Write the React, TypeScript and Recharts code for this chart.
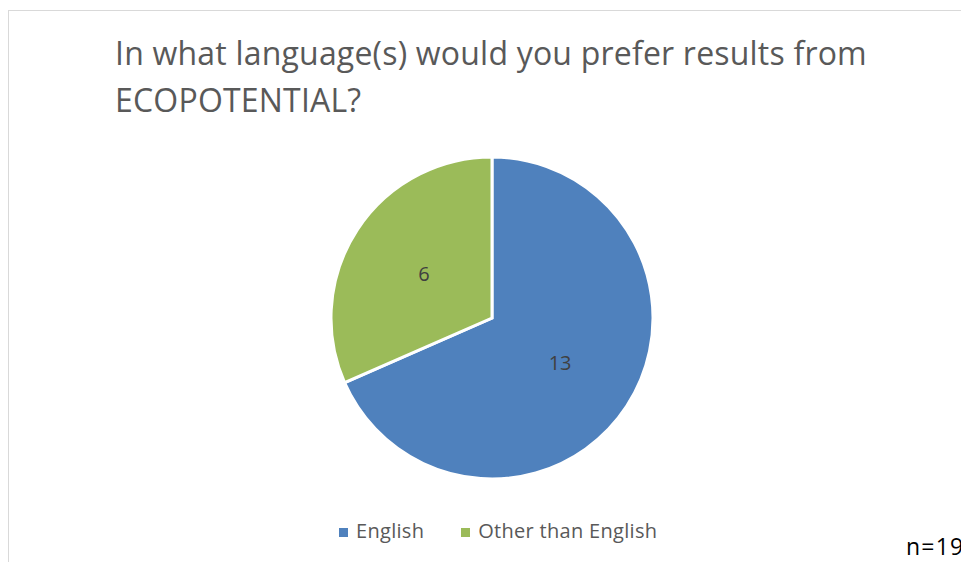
import { PieChart, Pie, Cell, Legend } from "recharts";

const categories = ["English", "Other than English"];
const counts = [13, 6];
const COLORS = ["#4F81BD", "#9BBB59"];

const TITLE_1 = "In what language(s) would you prefer results from";
const TITLE_2 = "ECOPOTENTIAL?";
const NOTE = "n=19";

const data = categories.map((name, i) => ({ name, value: counts[i] }));

const RADIAN = Math.PI / 180;

function renderLabel(props: any) {
  const { cx, cy, midAngle, outerRadius, value } = props;
  const r = outerRadius * 0.505;
  const x = cx + r * Math.cos(-midAngle * RADIAN);
  const y = cy + r * Math.sin(-midAngle * RADIAN);
  return (
    <text
      x={x}
      y={y}
      fill="#404040"
      fontSize={20}
      fontFamily="Open Sans"
      textAnchor="middle"
      dominantBaseline="central"
    >
      {value}
    </text>
  );
}

function renderLegend() {
  return (
    <div
      style={{
        display: "flex",
        justifyContent: "flex-start",
        gap: 37,
        fontFamily: "Open Sans",
        fontSize: 20,
        letterSpacing: 0.3,
        color: "#595959",
        paddingLeft: 339,
      }}
    >
      {data.map((d, i) => (
        <div key={d.name} style={{ display: "flex", alignItems: "center" }}>
          <span
            style={{
              width: 9,
              height: 9,
              background: COLORS[i],
              display: "inline-block",
              marginRight: 8,
              marginTop: 3,
            }}
          />
          {d.name}
        </div>
      ))}
    </div>
  );
}

export default function App() {
  return (
    <div
      style={{
        position: "absolute",
        left: 0,
        top: 0,
        width: 961,
        height: 562,
        overflow: "hidden",
        background: "#fff",
      }}
    >
      <div
        style={{
          position: "absolute",
          left: 8,
          top: 10,
          width: 1000,
          height: 600,
          border: "1px solid #d9d9d9",
        }}
      />
      <div
        style={{
          position: "absolute",
          left: 115,
          top: 29,
          fontFamily: "Open Sans",
          fontSize: 32,
          letterSpacing: 0.2,
          lineHeight: "47px",
          color: "#595959",
          whiteSpace: "nowrap",
        }}
      >
        {TITLE_1}
        <br />
        {TITLE_2}
      </div>
      <div style={{ position: "absolute", left: 0, top: 0 }}>
        <PieChart
          width={961}
          height={562}
          margin={{ top: 0, right: 0, bottom: 0, left: 0 }}
        >
          <Pie
            data={data}
            dataKey="value"
            nameKey="name"
            cx={492}
            cy={318}
            outerRadius={161}
            startAngle={90}
            endAngle={-270}
            stroke="#fff"
            strokeWidth={3}
            label={renderLabel}
            labelLine={false}
            isAnimationActive={false}
          >
            {data.map((d, i) => (
              <Cell key={d.name} fill={COLORS[i]} />
            ))}
          </Pie>
          <Legend
            content={renderLegend}
            wrapperStyle={{ position: "absolute", left: 0, width: 961, top: 517 }}
          />
        </PieChart>
      </div>
      <div
        style={{
          position: "absolute",
          left: 906,
          top: 530,
          fontFamily: "Open Sans",
          fontSize: 23,
          letterSpacing: 1.2,
          color: "#000",
          whiteSpace: "nowrap",
        }}
      >
        {NOTE}
      </div>
    </div>
  );
}
